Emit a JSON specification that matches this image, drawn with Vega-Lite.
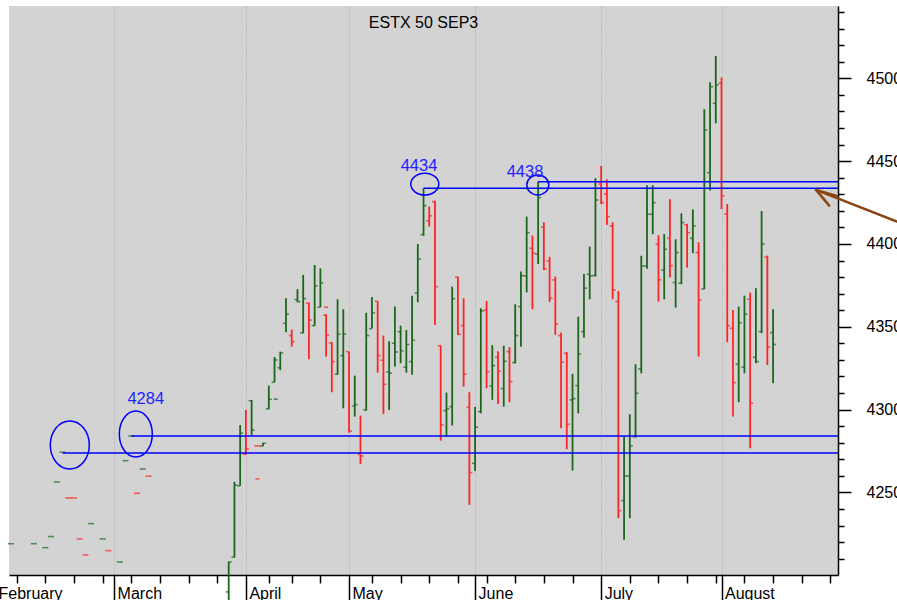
{
  "$schema": "https://vega.github.io/schema/vega-lite/v6.json",
  "width": 829,
  "height": 569,
  "autosize": {"type": "none"},
  "padding": {"left": 9, "top": 6, "right": 59, "bottom": 25},
  "background": "white",
  "config": {
    "view": {"fill": "#d3d3d3", "stroke": null},
    "font": "Liberation Sans"
  },
  "title": {
    "text": "ESTX 50 SEP3",
    "fontSize": 16,
    "fontWeight": "normal",
    "font": "Liberation Sans",
    "color": "black",
    "anchor": "middle",
    "baseline": "alphabetic",
    "offset": -40
  },
  "datasets": {
    "ohlc": [
      {"day": 2, "open": 4219.1, "high": 4219.1, "low": 4219.1, "close": 4219.1, "dir": "up"},
      {"day": 6, "open": 4219.1, "high": 4219.1, "low": 4219.1, "close": 4219.1, "dir": "up"},
      {"day": 8, "open": 4216.7, "high": 4216.7, "low": 4216.7, "close": 4216.7, "dir": "up"},
      {"day": 9, "open": 4223.4, "high": 4223.4, "low": 4223.4, "close": 4223.4, "dir": "up"},
      {"day": 10, "open": 4256.4, "high": 4256.4, "low": 4256.4, "close": 4256.4, "dir": "up"},
      {"day": 11, "open": 4274.3, "high": 4274.3, "low": 4274.3, "close": 4274.3, "dir": "up"},
      {"day": 12, "open": 4246.7, "high": 4246.7, "low": 4246.7, "close": 4246.7, "dir": "down"},
      {"day": 13, "open": 4246.7, "high": 4246.7, "low": 4246.7, "close": 4246.7, "dir": "down"},
      {"day": 14, "open": 4222.0, "high": 4222.0, "low": 4222.0, "close": 4222.0, "dir": "down"},
      {"day": 15, "open": 4212.3, "high": 4212.3, "low": 4212.3, "close": 4212.3, "dir": "down"},
      {"day": 16, "open": 4231.2, "high": 4231.2, "low": 4231.2, "close": 4231.2, "dir": "up"},
      {"day": 18, "open": 4222.0, "high": 4222.0, "low": 4222.0, "close": 4222.0, "dir": "up"},
      {"day": 19, "open": 4214.9, "high": 4214.9, "low": 4214.9, "close": 4214.9, "dir": "down"},
      {"day": 21, "open": 4208.1, "high": 4208.1, "low": 4208.1, "close": 4208.1, "dir": "up"},
      {"day": 22, "open": 4269.2, "high": 4269.2, "low": 4269.2, "close": 4269.2, "dir": "up"},
      {"day": 23, "open": 4284.1, "high": 4284.1, "low": 4284.1, "close": 4284.1, "dir": "up"},
      {"day": 24, "open": 4249.5, "high": 4249.5, "low": 4249.5, "close": 4249.5, "dir": "down"},
      {"day": 25, "open": 4264.2, "high": 4264.2, "low": 4264.2, "close": 4264.2, "dir": "up"},
      {"day": 26, "open": 4259.8, "high": 4259.8, "low": 4259.8, "close": 4259.8, "dir": "down"},
      {"day": 40, "open": 4190.0, "high": 4208.3, "low": 4185.0, "close": 4208.0, "dir": "up"},
      {"day": 41, "open": 4211.0, "high": 4256.4, "low": 4210.7, "close": 4254.5, "dir": "up"},
      {"day": 42, "open": 4254.0, "high": 4290.7, "low": 4254.0, "close": 4285.8, "dir": "up"},
      {"day": 43, "open": 4273.1, "high": 4299.8, "low": 4272.7, "close": 4276.3, "dir": "down"},
      {"day": 44, "open": 4305.4, "high": 4305.8, "low": 4284.7, "close": 4287.6, "dir": "up"},
      {"day": 45, "open": 4278.1, "high": 4278.1, "low": 4278.1, "close": 4278.1, "dir": "down"},
      {"day": 46, "open": 4278.0, "high": 4280.0, "low": 4278.0, "close": 4279.7, "dir": "up"},
      {"day": 47, "open": 4300.4, "high": 4314.5, "low": 4300.4, "close": 4306.3, "dir": "up"},
      {"day": 48, "open": 4316.5, "high": 4331.8, "low": 4316.5, "close": 4330.0, "dir": "up"},
      {"day": 49, "open": 4325.3, "high": 4335.0, "low": 4323.8, "close": 4334.2, "dir": "up"},
      {"day": 50, "open": 4352.1, "high": 4367.2, "low": 4346.7, "close": 4357.6, "dir": "up"},
      {"day": 51, "open": 4344.7, "high": 4348.3, "low": 4338.0, "close": 4341.0, "dir": "down"},
      {"day": 52, "open": 4366.4, "high": 4372.7, "low": 4364.8, "close": 4365.2, "dir": "up"},
      {"day": 53, "open": 4346.3, "high": 4381.3, "low": 4346.1, "close": 4367.0, "dir": "up"},
      {"day": 54, "open": 4364.2, "high": 4364.6, "low": 4330.4, "close": 4354.1, "dir": "down"},
      {"day": 55, "open": 4350.7, "high": 4387.3, "low": 4350.5, "close": 4374.7, "dir": "up"},
      {"day": 56, "open": 4361.8, "high": 4385.3, "low": 4361.8, "close": 4376.5, "dir": "up"},
      {"day": 57, "open": 4357.0, "high": 4357.6, "low": 4332.0, "close": 4345.0, "dir": "down"},
      {"day": 58, "open": 4340.3, "high": 4340.7, "low": 4310.5, "close": 4329.0, "dir": "down"},
      {"day": 59, "open": 4321.4, "high": 4366.6, "low": 4321.0, "close": 4345.5, "dir": "up"},
      {"day": 60, "open": 4332.6, "high": 4360.6, "low": 4300.8, "close": 4345.6, "dir": "up"},
      {"day": 61, "open": 4335.0, "high": 4335.0, "low": 4286.0, "close": 4287.0, "dir": "down"},
      {"day": 62, "open": 4302.2, "high": 4320.5, "low": 4295.8, "close": 4303.0, "dir": "up"},
      {"day": 63, "open": 4273.0, "high": 4296.4, "low": 4267.2, "close": 4272.0, "dir": "down"},
      {"day": 64, "open": 4299.8, "high": 4358.5, "low": 4299.4, "close": 4344.7, "dir": "up"},
      {"day": 65, "open": 4348.9, "high": 4368.0, "low": 4348.9, "close": 4358.4, "dir": "up"},
      {"day": 66, "open": 4365.4, "high": 4365.4, "low": 4322.3, "close": 4332.6, "dir": "down"},
      {"day": 67, "open": 4329.8, "high": 4344.7, "low": 4297.4, "close": 4315.3, "dir": "down"},
      {"day": 68, "open": 4322.8, "high": 4341.3, "low": 4299.8, "close": 4322.0, "dir": "up"},
      {"day": 69, "open": 4340.1, "high": 4362.2, "low": 4326.0, "close": 4334.8, "dir": "up"},
      {"day": 70, "open": 4347.0, "high": 4350.7, "low": 4328.0, "close": 4335.5, "dir": "up"},
      {"day": 71, "open": 4325.6, "high": 4348.1, "low": 4322.3, "close": 4339.3, "dir": "up"},
      {"day": 72, "open": 4329.0, "high": 4368.8, "low": 4321.0, "close": 4341.9, "dir": "up"},
      {"day": 73, "open": 4370.4, "high": 4400.0, "low": 4364.8, "close": 4390.9, "dir": "up"},
      {"day": 74, "open": 4405.6, "high": 4433.6, "low": 4405.0, "close": 4423.1, "dir": "up"},
      {"day": 75, "open": 4414.0, "high": 4422.5, "low": 4410.4, "close": 4417.0, "dir": "down"},
      {"day": 76, "open": 4425.5, "high": 4426.0, "low": 4351.1, "close": 4374.2, "dir": "down"},
      {"day": 77, "open": 4338.6, "high": 4338.6, "low": 4281.3, "close": 4290.8, "dir": "down"},
      {"day": 78, "open": 4299.4, "high": 4310.3, "low": 4284.1, "close": 4300.4, "dir": "up"},
      {"day": 79, "open": 4301.8, "high": 4374.2, "low": 4290.4, "close": 4367.0, "dir": "up"},
      {"day": 80, "open": 4379.9, "high": 4380.3, "low": 4345.1, "close": 4345.5, "dir": "down"},
      {"day": 81, "open": 4350.7, "high": 4367.2, "low": 4313.9, "close": 4321.4, "dir": "down"},
      {"day": 82, "open": 4301.4, "high": 4310.5, "low": 4242.5, "close": 4262.0, "dir": "down"},
      {"day": 83, "open": 4267.6, "high": 4301.6, "low": 4263.0, "close": 4289.4, "dir": "up"},
      {"day": 84, "open": 4298.8, "high": 4361.2, "low": 4297.8, "close": 4359.6, "dir": "up"},
      {"day": 85, "open": 4360.2, "high": 4365.6, "low": 4312.9, "close": 4322.9, "dir": "down"},
      {"day": 86, "open": 4314.3, "high": 4338.9, "low": 4305.9, "close": 4326.6, "dir": "up"},
      {"day": 87, "open": 4331.6, "high": 4335.2, "low": 4303.4, "close": 4323.2, "dir": "down"},
      {"day": 88, "open": 4312.7, "high": 4338.6, "low": 4301.8, "close": 4329.2, "dir": "up"},
      {"day": 89, "open": 4335.0, "high": 4337.7, "low": 4304.5, "close": 4316.9, "dir": "down"},
      {"day": 90, "open": 4328.4, "high": 4363.6, "low": 4328.0, "close": 4344.7, "dir": "up"},
      {"day": 91, "open": 4362.2, "high": 4383.3, "low": 4338.0, "close": 4380.9, "dir": "up"},
      {"day": 92, "open": 4380.7, "high": 4416.5, "low": 4370.8, "close": 4406.8, "dir": "up"},
      {"day": 93, "open": 4397.4, "high": 4405.0, "low": 4360.6, "close": 4394.4, "dir": "down"},
      {"day": 94, "open": 4393.8, "high": 4437.6, "low": 4387.9, "close": 4428.0, "dir": "up"},
      {"day": 95, "open": 4410.1, "high": 4413.1, "low": 4384.3, "close": 4384.9, "dir": "down"},
      {"day": 96, "open": 4389.6, "high": 4392.2, "low": 4365.0, "close": 4367.2, "dir": "down"},
      {"day": 97, "open": 4378.3, "high": 4380.3, "low": 4345.1, "close": 4351.7, "dir": "down"},
      {"day": 98, "open": 4344.7, "high": 4346.5, "low": 4288.8, "close": 4328.6, "dir": "down"},
      {"day": 99, "open": 4334.0, "high": 4334.6, "low": 4276.1, "close": 4291.2, "dir": "down"},
      {"day": 100, "open": 4305.9, "high": 4321.6, "low": 4263.2, "close": 4306.6, "dir": "up"},
      {"day": 101, "open": 4314.5, "high": 4356.1, "low": 4297.8, "close": 4333.6, "dir": "up"},
      {"day": 102, "open": 4347.1, "high": 4381.9, "low": 4343.5, "close": 4373.3, "dir": "up"},
      {"day": 103, "open": 4381.7, "high": 4398.4, "low": 4366.6, "close": 4380.7, "dir": "up"},
      {"day": 104, "open": 4381.0, "high": 4439.7, "low": 4380.3, "close": 4426.5, "dir": "up"},
      {"day": 105, "open": 4436.2, "high": 4447.1, "low": 4424.1, "close": 4424.9, "dir": "down"},
      {"day": 106, "open": 4430.2, "high": 4439.0, "low": 4411.5, "close": 4416.5, "dir": "down"},
      {"day": 107, "open": 4410.9, "high": 4413.1, "low": 4366.6, "close": 4372.2, "dir": "down"},
      {"day": 108, "open": 4365.2, "high": 4371.6, "low": 4234.5, "close": 4239.0, "dir": "down"},
      {"day": 109, "open": 4245.1, "high": 4283.7, "low": 4221.4, "close": 4260.0, "dir": "up"},
      {"day": 110, "open": 4260.0, "high": 4297.2, "low": 4234.5, "close": 4278.1, "dir": "up"},
      {"day": 111, "open": 4283.7, "high": 4327.4, "low": 4283.1, "close": 4309.9, "dir": "up"},
      {"day": 112, "open": 4324.6, "high": 4392.9, "low": 4321.9, "close": 4386.7, "dir": "up"},
      {"day": 113, "open": 4386.7, "high": 4435.4, "low": 4385.1, "close": 4417.9, "dir": "up"},
      {"day": 114, "open": 4417.9, "high": 4435.4, "low": 4405.9, "close": 4424.9, "dir": "up"},
      {"day": 115, "open": 4399.8, "high": 4405.3, "low": 4365.2, "close": 4378.3, "dir": "down"},
      {"day": 116, "open": 4384.3, "high": 4406.0, "low": 4366.6, "close": 4396.8, "dir": "up"},
      {"day": 117, "open": 4403.4, "high": 4427.0, "low": 4379.7, "close": 4386.9, "dir": "down"},
      {"day": 118, "open": 4376.7, "high": 4402.8, "low": 4361.6, "close": 4394.8, "dir": "up"},
      {"day": 119, "open": 4376.3, "high": 4418.5, "low": 4375.7, "close": 4412.9, "dir": "up"},
      {"day": 120, "open": 4411.6, "high": 4412.1, "low": 4385.7, "close": 4406.8, "dir": "down"},
      {"day": 121, "open": 4403.4, "high": 4420.9, "low": 4394.4, "close": 4410.9, "dir": "up"},
      {"day": 122, "open": 4394.8, "high": 4401.0, "low": 4332.0, "close": 4366.2, "dir": "down"},
      {"day": 123, "open": 4372.8, "high": 4481.3, "low": 4372.7, "close": 4468.8, "dir": "up"},
      {"day": 124, "open": 4443.0, "high": 4497.6, "low": 4432.2, "close": 4494.9, "dir": "up"},
      {"day": 125, "open": 4484.9, "high": 4513.5, "low": 4472.8, "close": 4496.0, "dir": "up"},
      {"day": 126, "open": 4497.0, "high": 4500.4, "low": 4421.0, "close": 4429.1, "dir": "down"},
      {"day": 127, "open": 4418.1, "high": 4424.1, "low": 4340.7, "close": 4350.7, "dir": "down"},
      {"day": 128, "open": 4349.1, "high": 4360.2, "low": 4295.8, "close": 4316.3, "dir": "down"},
      {"day": 129, "open": 4327.4, "high": 4362.2, "low": 4304.5, "close": 4352.5, "dir": "up"},
      {"day": 130, "open": 4325.6, "high": 4368.8, "low": 4321.9, "close": 4357.6, "dir": "up"},
      {"day": 131, "open": 4366.6, "high": 4370.6, "low": 4276.7, "close": 4303.9, "dir": "down"},
      {"day": 132, "open": 4331.6, "high": 4373.3, "low": 4328.0, "close": 4329.0, "dir": "up"},
      {"day": 133, "open": 4347.1, "high": 4419.9, "low": 4346.1, "close": 4400.0, "dir": "up"},
      {"day": 134, "open": 4392.0, "high": 4392.9, "low": 4326.9, "close": 4337.7, "dir": "down"},
      {"day": 135, "open": 4346.5, "high": 4360.6, "low": 4315.9, "close": 4339.3, "dir": "up"}
    ],
    "extra": [
      {"day": 45, "price": 4258.2, "dir": "down"},
      {"day": 48.2, "price": 4306.3, "dir": "up"},
      {"day": 57, "price": 4361.8, "dir": "down"}
    ],
    "levels": [
      {"from": 11, "to": 146.33, "level": 4273.8},
      {"from": 23, "to": 146.33, "level": 4284.1},
      {"from": 74, "to": 146.33, "level": 4433.6},
      {"from": 94, "to": 146.33, "level": 4437.6}
    ],
    "notes": [
      {"day": 25.53, "price": 4303.1, "label": "4284"},
      {"day": 73.21, "price": 4444.2, "label": "4434"},
      {"day": 91.71, "price": 4440.3, "label": "4438"}
    ],
    "arrow": [
      {"x1": 156.6, "y1": 4413.5, "x2": 142.5, "y2": 4432.6},
      {"x1": 142.5, "y1": 4432.6, "x2": 146.1, "y2": 4429.0},
      {"x1": 142.5, "y1": 4432.6, "x2": 144.8, "y2": 4423.1}
    ]
  },
  "layer": [
    {
      "data": {"name": "ohlc"},
      "mark": {"type": "rule", "strokeWidth": 1.8},
      "encoding": {
        "x": {
          "field": "day",
          "type": "quantitative",
          "scale": {"domain": [1.66, 146.33], "nice": false, "zero": false},
          "axis": {
            "orient": "bottom",
            "title": null,
            "tickCount": 200,
            "values": [1.66, 3, 8, 13, 18, 20, 23, 28, 33, 38, 43, 47, 51, 56, 61, 65, 70, 75, 80, 83, 85, 90, 95, 100, 105, 110, 115, 120, 125, 126, 130, 135, 140, 145],
            "labelExpr": "datum.value == 1.66 ? 'February' : datum.value == 20 ? 'March' : datum.value == 43 ? 'April' : datum.value == 61 ? 'May' : datum.value == 83 ? 'June' : datum.value == 105 ? 'July' : datum.value == 126 ? 'August' : ''",
            "labelAlign": "left",
            "labelBaseline": "alphabetic",
            "labelOffset": {"condition": {"test": "datum.value == 1.66", "value": -11}, "value": 3},
            "labelPadding": -2,
            "labelFontSize": 16,
            "labelColor": "black",
            "labelFont": "Liberation Sans",
            "labelOverlap": false,
            "labelFlush": false,
            "labelBound": false,
            "domainColor": "black",
            "domainWidth": 1.5,
            "tickColor": "black",
            "tickWidth": 1.5,
            "tickSize": {"condition": {"test": "indexof([1.66,20,43,61,83,105,126], datum.value) >= 0", "value": 25}, "value": 8},
            "tickOpacity": {"condition": {"test": "datum.value == 1.66", "value": 0}, "value": 1},
            "grid": true,
            "gridColor": "#a9a9a9",
            "gridDash": [1, 2],
            "gridWidth": 1,
            "gridOpacity": {"condition": {"test": "indexof([20,43,61,83,105,126], datum.value) >= 0", "value": 1}, "value": 0}
          }
        },
        "y": {
          "field": "low",
          "type": "quantitative",
          "scale": {"domain": [4200.2, 4543.6], "nice": false, "zero": false},
          "axis": {
            "orient": "right",
            "title": null,
            "tickCount": 200,
            "values": [4210, 4220, 4230, 4240, 4250, 4260, 4270, 4280, 4290, 4300, 4310, 4320, 4330, 4340, 4350, 4360, 4370, 4380, 4390, 4400, 4410, 4420, 4430, 4440, 4450, 4460, 4470, 4480, 4490, 4500, 4510, 4520, 4530, 4540],
            "labelExpr": "datum.value % 50 === 0 ? '' + datum.value : ''",
            "labelAlign": "left",
            "labelBaseline": "middle",
            "labelPadding": 15,
            "labelFontSize": 16,
            "labelColor": "black",
            "labelFont": "Liberation Sans",
            "labelOverlap": false,
            "labelFlush": false,
            "labelBound": false,
            "domainColor": "black",
            "domainWidth": 1.5,
            "tickColor": "black",
            "tickWidth": 1.5,
            "tickSize": {"condition": {"test": "datum.value % 50 === 0", "value": 13}, "value": 6},
            "grid": false
          }
        },
        "y2": {"field": "high"},
        "color": {
          "field": "dir",
          "type": "nominal",
          "scale": {"domain": ["up", "down"], "range": ["#1c661c", "#ff2424"]},
          "legend": null
        }
      }
    },
    {
      "data": {"name": "ohlc"},
      "mark": {"type": "tick", "orient": "horizontal", "size": 3, "thickness": 1.6, "xOffset": -1.5},
      "encoding": {
        "x": {"field": "day", "type": "quantitative"},
        "y": {"field": "open", "type": "quantitative"},
        "color": {"field": "dir", "type": "nominal", "legend": null}
      }
    },
    {
      "data": {"name": "ohlc"},
      "mark": {"type": "tick", "orient": "horizontal", "size": 3, "thickness": 1.6, "xOffset": 1.5},
      "encoding": {
        "x": {"field": "day", "type": "quantitative"},
        "y": {"field": "close", "type": "quantitative"},
        "color": {"field": "dir", "type": "nominal", "legend": null}
      }
    },
    {
      "data": {"name": "extra"},
      "mark": {"type": "tick", "orient": "horizontal", "size": 4, "thickness": 1.6},
      "encoding": {
        "x": {"field": "day", "type": "quantitative"},
        "y": {"field": "price", "type": "quantitative"},
        "color": {"field": "dir", "type": "nominal", "legend": null}
      }
    },
    {
      "data": {"name": "levels"},
      "mark": {"type": "rule", "color": "#0000ff", "strokeWidth": 1.5},
      "encoding": {
        "x": {"field": "from", "type": "quantitative"},
        "x2": {"field": "to"},
        "y": {"field": "level", "type": "quantitative"}
      }
    },
    {
      "data": {"values": [{"day": 12.27, "price": 4278.7}]},
      "mark": {"type": "point", "shape": "M-1,0A1,1.231,0,1,1,1,0A1,1.231,0,1,1,-1,0Z", "size": 1521, "filled": false, "stroke": "#0000ff", "strokeWidth": 1.5, "opacity": 1},
      "encoding": {
        "x": {"field": "day", "type": "quantitative"},
        "y": {"field": "price", "type": "quantitative"}
      }
    },
    {
      "data": {"values": [{"day": 23.79, "price": 4285.3}]},
      "mark": {"type": "point", "shape": "M-1,0A1,1.394,0,1,1,1,0A1,1.394,0,1,1,-1,0Z", "size": 1089, "filled": false, "stroke": "#0000ff", "strokeWidth": 1.5, "opacity": 1},
      "encoding": {
        "x": {"field": "day", "type": "quantitative"},
        "y": {"field": "price", "type": "quantitative"}
      }
    },
    {
      "data": {"values": [{"day": 74.22, "price": 4436.1}]},
      "mark": {"type": "point", "shape": "M-1,0A1,0.78,0,1,1,1,0A1,0.78,0,1,1,-1,0Z", "size": 784, "filled": false, "stroke": "#0000ff", "strokeWidth": 1.5, "opacity": 1},
      "encoding": {
        "x": {"field": "day", "type": "quantitative"},
        "y": {"field": "price", "type": "quantitative"}
      }
    },
    {
      "data": {"values": [{"day": 93.94, "price": 4435.6}]},
      "mark": {"type": "point", "shape": "M-1,0A1,0.91,0,1,1,1,0A1,0.91,0,1,1,-1,0Z", "size": 484, "filled": false, "stroke": "#0000ff", "strokeWidth": 1.5, "opacity": 1},
      "encoding": {
        "x": {"field": "day", "type": "quantitative"},
        "y": {"field": "price", "type": "quantitative"}
      }
    },
    {
      "data": {"name": "notes"},
      "mark": {"type": "text", "color": "#1f1fff", "fontSize": 16.5, "font": "Liberation Sans", "align": "center", "baseline": "alphabetic"},
      "encoding": {
        "x": {"field": "day", "type": "quantitative"},
        "y": {"field": "price", "type": "quantitative"},
        "text": {"field": "label"}
      }
    },
    {
      "data": {"name": "arrow"},
      "mark": {"type": "rule", "color": "#8b4513", "strokeWidth": 2.5, "strokeCap": "round"},
      "encoding": {
        "x": {"field": "x1", "type": "quantitative"},
        "x2": {"field": "x2"},
        "y": {"field": "y1", "type": "quantitative"},
        "y2": {"field": "y2"}
      }
    }
  ]
}
